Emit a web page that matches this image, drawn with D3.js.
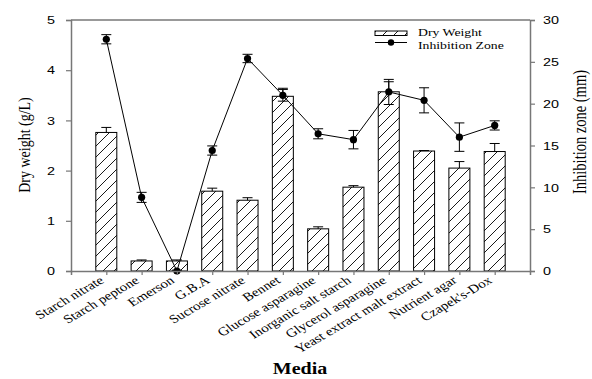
<!DOCTYPE html>
<html>
<head>
<meta charset="utf-8">
<script src="https://cdn.jsdelivr.net/npm/d3@7"></script>
<style>
  html, body { margin: 0; padding: 0; background: #fff; }
  svg { display: block; }
</style>
</head>
<body>
<svg id="chart" width="592" height="379"></svg>
<script>
// Culture media tested
const media = [
  "Starch nitrate", "Starch peptone", "Emerson", "G.B.A", "Sucrose nitrate", "Bennet",
  "Glucose asparagine", "Inorganic salt starch", "Glycerol asparagine",
  "Yeast extract malt extract", "Nutrient agar", "Czapek's-Dox"
];
// Dry weight (g/L) with standard error
const dryWeight = [2.76, 0.20, 0.20, 1.59, 1.41, 3.48, 0.84, 1.67, 3.57, 2.39, 2.05, 2.38];
const dryWeightErr = [0.10, 0.02, 0.02, 0.06, 0.05, 0.16, 0.04, 0.03, 0.20, 0.01, 0.13, 0.16];
// Inhibition zone (mm) with standard error
const inhibition = [27.7, 8.8, 0.0, 14.4, 25.4, 21.0, 16.4, 15.7, 21.4, 20.4, 16.0, 17.4];
const inhibitionErr = [0.55, 0.6, 0.1, 0.55, 0.5, 0.7, 0.6, 1.1, 1.5, 1.5, 1.7, 0.55];
// Axis ticks
const leftTicks = [0, 1, 2, 3, 4, 5];
const rightTicks = [0, 5, 10, 15, 20, 25, 30];

const svg = d3.select("#chart");
const m = { left: 71, right: 530, top: 20, bottom: 271 };

const x = d3.scaleLinear().domain([0, media.length + 1]).range([m.left, m.right]);
const yL = d3.scaleLinear().domain([0, 5]).range([m.bottom, m.top]);
const yR = d3.scaleLinear().domain([0, 30]).range([m.bottom, m.top]);
const barW = 21;
const axisColor = "#777";
const serif = "'Liberation Serif', 'Times New Roman', serif";
const sans = "'Liberation Sans', Arial, sans-serif";
const SX = 1.25; // wide lettering: glyphs are drawn stretched horizontally

// Diagonal hatch for the bars
const defs = svg.append("defs");
const pat = defs.append("pattern")
  .attr("id", "hatch").attr("patternUnits", "userSpaceOnUse")
  .attr("width", 11).attr("height", 11);
pat.append("rect").attr("width", 11).attr("height", 11).attr("fill", "#fff");
pat.append("path")
  .attr("d", "M-1,1 L1,-1 M0,11 L11,0 M10,12 L12,10")
  .attr("stroke", "#000").attr("stroke-width", 0.9);

// Top frame line
svg.append("line")
  .attr("x1", m.left).attr("x2", m.right).attr("y1", m.top).attr("y2", m.top)
  .attr("stroke", axisColor).attr("stroke-width", 1.5);

// Bars
const idx = d3.range(media.length);
svg.append("g").selectAll("rect").data(idx).join("rect")
  .attr("x", i => x(i + 1) - barW / 2)
  .attr("width", barW)
  .attr("y", i => yL(dryWeight[i]))
  .attr("height", i => yL(0) - yL(dryWeight[i]))
  .attr("fill", "url(#hatch)")
  .attr("stroke", "#000").attr("stroke-width", 1);

// Dry weight error bars (upper)
const eb = svg.append("g").attr("stroke", "#000").attr("stroke-width", 1);
idx.forEach(i => {
  const cx = x(i + 1), top = yL(dryWeight[i] + dryWeightErr[i]);
  eb.append("line").attr("x1", cx).attr("x2", cx).attr("y1", yL(dryWeight[i])).attr("y2", top);
  eb.append("line").attr("x1", cx - 5).attr("x2", cx + 5).attr("y1", top).attr("y2", top);
});

// Inhibition zone line
const line = d3.line().x((d, i) => x(i + 1)).y(d => yR(d));
svg.append("path").datum(inhibition)
  .attr("d", line).attr("fill", "none").attr("stroke", "#000").attr("stroke-width", 1);

// Inhibition zone error bars
const ib = svg.append("g").attr("stroke", "#000").attr("stroke-width", 1);
idx.forEach(i => {
  const cx = x(i + 1);
  const hi = yR(inhibition[i] + inhibitionErr[i]);
  const lo = yR(Math.max(0, inhibition[i] - inhibitionErr[i]));
  ib.append("line").attr("x1", cx).attr("x2", cx).attr("y1", hi).attr("y2", lo);
  ib.append("line").attr("x1", cx - 5).attr("x2", cx + 5).attr("y1", hi).attr("y2", hi);
  ib.append("line").attr("x1", cx - 5).attr("x2", cx + 5).attr("y1", lo).attr("y2", lo);
});

svg.append("g").selectAll("circle").data(inhibition).join("circle")
  .attr("cx", (d, i) => x(i + 1)).attr("cy", d => yR(d)).attr("r", 3.6).attr("fill", "#000");

// Left axis
const gL = svg.append("g").attr("transform", `translate(${m.left},0)`)
  .call(d3.axisLeft(yL).tickValues(leftTicks).tickSize(5).tickFormat(d3.format("d")));
// Right axis
const gR = svg.append("g").attr("transform", `translate(${m.right},0)`)
  .call(d3.axisRight(yR).tickValues(rightTicks).tickSize(5).tickFormat(d3.format("d")));
// Bottom axis
const gB = svg.append("g").attr("transform", `translate(0,${m.bottom})`)
  .call(d3.axisBottom(x).tickValues(idx.map(i => i + 1)).tickSize(4).tickFormat(i => media[i - 1]));

[gL, gR, gB].forEach(g => {
  g.attr("font-family", null).attr("font-size", null);
  g.select(".domain").attr("stroke", axisColor).attr("stroke-width", 1.5);
  g.selectAll(".tick line").attr("stroke", axisColor).attr("stroke-width", 1.2);
});
gL.selectAll(".tick text")
  .style("font-family", sans).style("font-size", "11.5px").attr("fill", "#000")
  .attr("x", 0).attr("transform", `translate(-16,0) scale(${SX},1)`);
gR.selectAll(".tick text")
  .style("font-family", sans).style("font-size", "11.5px").attr("fill", "#000")
  .attr("x", 0).attr("transform", `translate(13,0) scale(${SX},1)`);

gB.selectAll(".tick text")
  .style("font-family", serif).style("font-size", "12px")
  .attr("fill", "#000")
  .attr("text-anchor", "end")
  .attr("x", 0).attr("y", 0).attr("dy", null)
  .attr("transform", `translate(-2,11) scale(${SX},1) rotate(-36)`);

// Axis titles
svg.append("text")
  .attr("transform", `translate(30,145) scale(${SX},1) rotate(-90)`)
  .attr("text-anchor", "middle").style("font-family", serif).style("font-size", "14px")
  .text("Dry weight (g/L)");
svg.append("text")
  .attr("transform", `translate(586,132) scale(${SX},1) rotate(-90)`)
  .attr("text-anchor", "middle").style("font-family", serif).style("font-size", "14.5px")
  .text("Inhibition zone (mm)");
svg.append("text")
  .attr("transform", `translate(300,374) scale(${SX},1)`)
  .attr("text-anchor", "middle").style("font-family", serif).style("font-size", "16px")
  .attr("font-weight", "bold")
  .text("Media");

// Legend
const lg = svg.append("g").style("font-family", serif).style("font-size", "11px");
lg.append("rect").attr("x", 375).attr("y", 31).attr("width", 32).attr("height", 4.5)
  .attr("fill", "url(#hatch)").attr("stroke", "#000").attr("stroke-width", 1);
lg.append("text").attr("transform", `translate(418,36.2) scale(${SX},1)`).text("Dry Weight");
lg.append("line").attr("x1", 375).attr("x2", 407).attr("y1", 42.5).attr("y2", 42.5)
  .attr("stroke", "#000").attr("stroke-width", 1);
lg.append("circle").attr("cx", 391).attr("cy", 42.5).attr("r", 3.2).attr("fill", "#000");
lg.append("text").attr("transform", `translate(418,48.8) scale(${SX},1)`).text("Inhibition Zone");
</script>
</body>
</html>
